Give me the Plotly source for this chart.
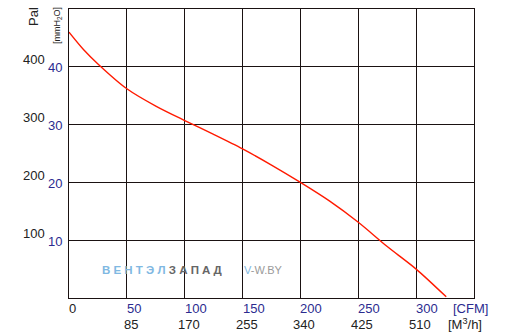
import plotly.graph_objects as go

# Data
cfm = [0, 12.5, 25, 50, 75, 100, 125, 150, 175, 200, 225, 250, 275, 300, 326]
mmh2o = [46.0, 43.0, 40.5, 36.2, 33.2, 30.7, 28.3, 25.8, 23.0, 20.0, 16.8, 13.1, 8.9, 5.0, 0.2]

cfm_ticks = [0, 50, 100, 150, 200, 250, 300]
cfm_labels = ["0", "50", "100", "150", "200", "250", "300"]
m3h_labels = ["", "85", "170", "255", "340", "425", "510"]
mm_ticks = [10, 20, 30, 40]
mm_labels = ["10", "20", "30", "40"]
pa_labels = ["100", "200", "300", "400"]

BLUE = "#2b2b8f"
FONT = "Liberation Sans, Arial, sans-serif"

fig = go.Figure()
fig.add_trace(go.Scatter(x=cfm, y=mmh2o, mode="lines",
                         line=dict(color="#ff1a00", width=1.4, shape="spline", smoothing=0.8),
                         hoverinfo="skip", showlegend=False))

fig.update_layout(
    width=517, height=335,
    margin=dict(l=69, r=43, t=9, b=37),
    paper_bgcolor="white", plot_bgcolor="white",
    font=dict(family=FONT, size=13, color="#222"),
    showlegend=False,
    xaxis=dict(range=[0, 350], tickvals=cfm_ticks, showticklabels=False,
               showgrid=True, gridcolor="#1a1212", gridwidth=1.4,
               showline=True, linecolor="#1a1212", linewidth=1.4, mirror=True,
               zeroline=False, ticks="", ticklen=0),
    yaxis=dict(range=[0, 50], tickvals=mm_ticks, showticklabels=False,
               showgrid=True, gridcolor="#1a1212", gridwidth=1.4,
               showline=True, linecolor="#1a1212", linewidth=1.4, mirror=True,
               zeroline=False, ticks="", ticklen=0),
)

ann = []
# CFM labels (left-aligned at grid lines)
for v, t in zip(cfm_ticks, cfm_labels):
    ann.append(dict(x=v, y=0, xref="x", yref="paper", text=t, showarrow=False,
                    xanchor="left", yanchor="middle", xshift=-2, yshift=-10,
                    font=dict(color="#222" if v == 0 else BLUE, size=13, family=FONT)))
# M3/h labels
for v, t in zip(cfm_ticks, m3h_labels):
    if t:
        ann.append(dict(x=v, y=0, xref="x", yref="paper", text=t, showarrow=False,
                        xanchor="center", yanchor="middle", xshift=4, yshift=-26,
                        font=dict(color="#222", size=13, family=FONT)))
ann.append(dict(x=1, y=0, xref="paper", yref="paper", text="[CFM]", showarrow=False,
                xanchor="left", yanchor="middle", xshift=-23, yshift=-10,
                font=dict(color=BLUE, size=13, family=FONT)))
ann.append(dict(x=1, y=0, xref="paper", yref="paper", text="[M<sup>3</sup>/h]", showarrow=False,
                xanchor="left", yanchor="middle", xshift=-28, yshift=-26,
                font=dict(color="#222", size=13, family=FONT)))
# mmH2O labels (blue)
for v, t in zip(mm_ticks, mm_labels):
    ann.append(dict(x=0, y=v, xref="paper", yref="y", text=t, showarrow=False,
                    xanchor="right", yanchor="middle", xshift=-5, yshift=-1,
                    font=dict(color=BLUE, size=13, family=FONT)))
# Pa labels
for v, t in zip(mm_ticks, pa_labels):
    ann.append(dict(x=0, y=v, xref="paper", yref="y", text=t, showarrow=False,
                    xanchor="right", yanchor="middle", xshift=-22, yshift=7,
                    font=dict(color="#222", size=13, family=FONT)))
# Axis unit titles
ann.append(dict(x=0, y=1, xref="paper", yref="paper", text="Pal", showarrow=False,
                textangle=-90, xanchor="center", yanchor="middle", xshift=-36, yshift=-8,
                font=dict(color="#222", size=13, family=FONT)))
ann.append(dict(x=0, y=1, xref="paper", yref="paper", text="[mmH<sub>2</sub>O]", showarrow=False,
                textangle=-90, xanchor="center", yanchor="middle", xshift=-12, yshift=-17,
                font=dict(color="#222", size=9, family=FONT)))
# Watermark
ann.append(dict(x=0, y=0, xref="paper", yref="paper",
                text="<span style='color:#80b8e2'>В Е Н Т Э Л </span><span style='color:#666'>З А П А Д</span>",
                showarrow=False, xanchor="left", yanchor="middle", xshift=31, yshift=28,
                font=dict(size=11.5, family=FONT, weight="bold")))
ann.append(dict(x=0, y=0, xref="paper", yref="paper",
                text="<span style='color:#80b8e2'>V</span><span style='color:#9a9a9a'>-W.BY</span>",
                showarrow=False, xanchor="left", yanchor="middle", xshift=173, yshift=28,
                font=dict(size=11, family=FONT)))
fig.update_layout(annotations=ann)

fig.write_html("out.html")
